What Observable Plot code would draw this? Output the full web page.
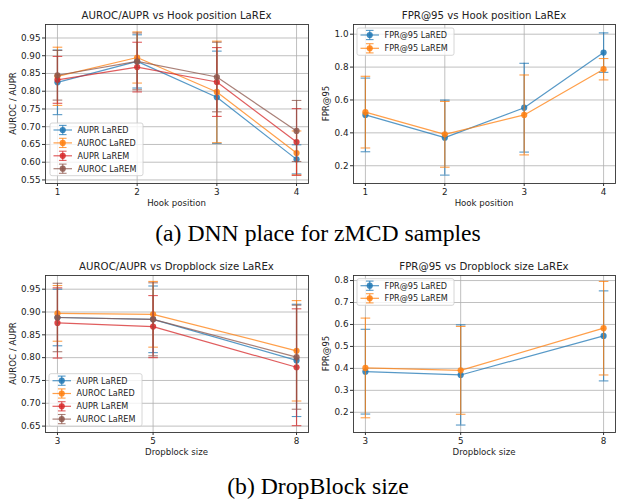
<!DOCTYPE html>
<html>
<head>
<meta charset="utf-8">
<script src="https://cdn.jsdelivr.net/npm/d3@7"></script>
<script src="https://cdn.jsdelivr.net/npm/@observablehq/plot@0.6"></script>
<style>
  body { margin: 0; background: #fff; }
  #root { position: relative; width: 620px; height: 500px; font-family: "DejaVu Sans", sans-serif; }
  #root > svg, #root > div { position: absolute; }
</style>
</head>
<body>
<div id="root"></div>
<script>
// ---------- data ----------
const hookPositions = [1, 2, 3, 4];
const dropSizes = [3, 5, 8];

const aucNames = ["AUPR LaRED", "AUROC LaRED", "AUPR LaREM", "AUROC LaREM"];
const fprNames = ["FPR@95 LaRED", "FPR@95 LaREM"];

// Hook position panel (AUROC / AUPR)
const hookAuprLaRED = [0.825, 0.884, 0.783, 0.608];
const hookAuprLaREDErr = [0.091, 0.075, 0.130, 0.041];
const hookAurocLaRED = [0.842, 0.895, 0.798, 0.626];
const hookAurocLaREDErr = [0.082, 0.072, 0.143, 0.062];
const hookAuprLaREM = [0.832, 0.868, 0.826, 0.657];
const hookAuprLaREMErr = [0.066, 0.070, 0.097, 0.094];
const hookAurocLaREM = [0.845, 0.884, 0.840, 0.688];
const hookAurocLaREMErr = [0.070, 0.080, 0.098, 0.086];

// Hook position panel (FPR@95)
const hookFprLaRED = [0.509, 0.371, 0.553, 0.888];
const hookFprLaREDErr = [0.224, 0.228, 0.270, 0.120];
const hookFprLaREM = [0.526, 0.391, 0.509, 0.787];
const hookFprLaREMErr = [0.218, 0.200, 0.243, 0.065];

// Dropblock size panel (AUROC / AUPR)
const dropAuprLaRED = [0.888, 0.884, 0.794];
const dropAuprLaREDErr = [0.062, 0.073, 0.123];
const dropAurocLaRED = [0.897, 0.895, 0.815];
const dropAurocLaREDErr = [0.061, 0.072, 0.110];
const dropAuprLaREM = [0.876, 0.868, 0.779];
const dropAuprLaREMErr = [0.077, 0.068, 0.128];
const dropAurocLaREM = [0.888, 0.884, 0.801];
const dropAurocLaREMErr = [0.075, 0.080, 0.114];

// Dropblock size panel (FPR@95)
const dropFprLaRED = [0.385, 0.370, 0.548];
const dropFprLaREDErr = [0.193, 0.228, 0.205];
const dropFprLaREM = [0.402, 0.391, 0.583];
const dropFprLaREMErr = [0.227, 0.200, 0.213];

// tick values
const aucTicksHook = [0.55, 0.60, 0.65, 0.70, 0.75, 0.80, 0.85, 0.90, 0.95];
const fprTicksHook = [0.2, 0.4, 0.6, 0.8, 1.0];
const aucTicksDrop = [0.65, 0.70, 0.75, 0.80, 0.85, 0.90, 0.95];
const fprTicksDrop = [0.2, 0.3, 0.4, 0.5, 0.6, 0.7, 0.8];

const titles = [
  "AUROC/AUPR vs Hook position LaREx",
  "FPR@95 vs Hook position LaREx",
  "AUROC/AUPR vs Dropblock size LaREx",
  "FPR@95 vs Dropblock size LaREx"
];
const xLabels = ["Hook position", "Hook position", "Dropblock size", "Dropblock size"];
const yLabels = ["AUROC / AUPR", "FPR@95", "AUROC / AUPR", "FPR@95"];
const captions = ["(a) DNN place for zMCD samples", "(b) DropBlock size"];

// ---------- styling ----------
const palette = ["#1f77b4", "#ff7f0e", "#d62728", "#8c564b"];
const ALPHA = 0.75;
const FONT = "DejaVu Sans, sans-serif";
const TXT = "#222";

const capSymbol = {
  draw(context, size) {
    const r = Math.sqrt(size / Math.PI);
    context.moveTo(-r, 0);
    context.lineTo(r, 0);
  }
};

const root = document.getElementById("root");
const overlay = d3.create("svg")
  .attr("width", 620).attr("height", 500)
  .style("left", "0px").style("top", "0px")
  .style("pointer-events", "none")
  .style("font-family", FONT);

function drawPanel(cfg) {
  const marks = [
    Plot.gridX(cfg.xs, {stroke: "#b0b0b0", strokeOpacity: 1, strokeWidth: 0.8}),
    Plot.gridY(cfg.yTicks, {stroke: "#b0b0b0", strokeOpacity: 1, strokeWidth: 0.8})
  ];
  cfg.series.forEach((s, i) => {
    const rows = cfg.xs.map((x, j) => ({x, y: s.values[j], e: s.errors[j]}));
    const c = palette[i];
    marks.push(
      Plot.ruleX(rows, {x: "x", y1: d => d.y - d.e, y2: d => d.y + d.e, stroke: c, strokeOpacity: ALPHA, strokeWidth: 1.2}),
      Plot.dot(rows, {x: "x", y: d => d.y - d.e, symbol: capSymbol, r: 4.8, fill: "none", stroke: c, strokeOpacity: ALPHA, strokeWidth: 1.1}),
      Plot.dot(rows, {x: "x", y: d => d.y + d.e, symbol: capSymbol, r: 4.8, fill: "none", stroke: c, strokeOpacity: ALPHA, strokeWidth: 1.1}),
      Plot.line(rows, {x: "x", y: "y", stroke: c, strokeOpacity: ALPHA, strokeWidth: 1.2}),
      Plot.dot(rows, {x: "x", y: "y", r: 3.1, fill: c, fillOpacity: 0.85, stroke: "none"})
    );
  });
  marks.push(
    Plot.frame({stroke: "#333", strokeWidth: 0.9}),
    Plot.axisX(cfg.xs, {tickSize: 3, tickPadding: 2, fontSize: 8.8, label: null, tickFormat: d => String(d), stroke: "#333"}),
    Plot.axisY(cfg.yTicks, {tickSize: 3, tickPadding: 2, fontSize: 8.8, label: null, tickFormat: d3.format(cfg.yFmt), stroke: "#333"})
  );
  const svg = Plot.plot({
    width: cfg.w, height: cfg.h,
    marginLeft: cfg.ml, marginRight: cfg.mr, marginTop: cfg.mt, marginBottom: cfg.mb,
    x: {type: "linear", domain: cfg.xDomain},
    y: {type: "linear", domain: cfg.yDomain},
    style: {fontFamily: FONT, color: TXT, background: "transparent", overflow: "visible"},
    marks
  });
  svg.style.left = cfg.left + "px";
  svg.style.top = cfg.top + "px";
  root.appendChild(svg);

  const fx0 = cfg.left + cfg.ml, fx1 = cfg.left + cfg.w - cfg.mr;
  const fy0 = cfg.top + cfg.mt, fy1 = cfg.top + cfg.h - cfg.mb;
  // title
  overlay.append("text").attr("x", (fx0 + fx1) / 2).attr("y", fy0 - cfg.titleGap)
    .attr("text-anchor", "middle").attr("font-size", 10.2).attr("fill", TXT).text(cfg.title);
  // x label
  overlay.append("text").attr("x", (fx0 + fx1) / 2).attr("y", fy1 + 22.5)
    .attr("text-anchor", "middle").attr("font-size", 8.6).attr("fill", TXT).text(cfg.xLabel);
  // y label
  overlay.append("text")
    .attr("transform", `translate(${cfg.yLabelX},${(fy0 + fy1) / 2}) rotate(-90)`)
    .attr("text-anchor", "middle").attr("dy", "0.35em").attr("font-size", 8.6).attr("fill", TXT).text(cfg.yLabel);
  // legend
  const L = cfg.legend;
  const n = cfg.series.length;
  overlay.append("rect")
    .attr("x", L.x).attr("y", L.y0 - 7).attr("width", L.w).attr("height", (n - 1) * L.dy + 14)
    .attr("rx", 2).attr("fill", "#fff").attr("fill-opacity", 0.8).attr("stroke", "#ccc").attr("stroke-width", 0.8);
  cfg.series.forEach((s, i) => {
    const y = L.y0 + i * L.dy, c = palette[i];
    const hx0 = L.x + 3.5, hx1 = L.x + 22, hm = (hx0 + hx1) / 2;
    const g = overlay.append("g").attr("stroke", c).attr("stroke-opacity", ALPHA);
    g.append("line").attr("x1", hx0).attr("x2", hx1).attr("y1", y).attr("y2", y).attr("stroke-width", 1.2);
    g.append("line").attr("x1", hm).attr("x2", hm).attr("y1", y - 4.6).attr("y2", y + 4.6).attr("stroke-width", 1.2);
    g.append("line").attr("x1", hm - 3.8).attr("x2", hm + 3.8).attr("y1", y - 4.6).attr("y2", y - 4.6).attr("stroke-width", 1.1);
    g.append("line").attr("x1", hm - 3.8).attr("x2", hm + 3.8).attr("y1", y + 4.6).attr("y2", y + 4.6).attr("stroke-width", 1.1);
    overlay.append("circle").attr("cx", hm).attr("cy", y).attr("r", 3.1).attr("fill", c).attr("fill-opacity", 0.85);
    overlay.append("text").attr("x", L.x + 27.5).attr("y", y).attr("dy", "0.35em")
      .attr("font-size", 8.1).attr("fill", TXT).text(s.name);
  });
}

const mkSeries = (names, vals, errs) => names.map((name, i) => ({name, values: vals[i], errors: errs[i]}));

drawPanel({
  left: 0, top: 0, w: 310, h: 215, ml: 45, mr: 2, mt: 24, mb: 32,
  xs: hookPositions, xDomain: [0.85, 4.15], yDomain: [0.54, 0.988], yTicks: aucTicksHook, yFmt: ".2f",
  series: mkSeries(aucNames,
    [hookAuprLaRED, hookAurocLaRED, hookAuprLaREM, hookAurocLaREM],
    [hookAuprLaREDErr, hookAurocLaREDErr, hookAuprLaREMErr, hookAurocLaREMErr]),
  title: titles[0], titleGap: 5.5, xLabel: xLabels[0], yLabel: yLabels[0], yLabelX: 12.7,
  legend: {x: 50, y0: 130, dy: 12.9, w: 93}
});
drawPanel({
  left: 310, top: 0, w: 310, h: 215, ml: 43, mr: 5, mt: 24, mb: 32,
  xs: hookPositions, xDomain: [0.85, 4.15], yDomain: [0.092, 1.059], yTicks: fprTicksHook, yFmt: ".1f",
  series: mkSeries(fprNames, [hookFprLaRED, hookFprLaREM], [hookFprLaREDErr, hookFprLaREMErr]),
  title: titles[1], titleGap: 5.5, xLabel: xLabels[1], yLabel: yLabels[1], yLabelX: 325.7,
  legend: {x: 357, y0: 35, dy: 13.3, w: 97}
});
drawPanel({
  left: 0, top: 255, w: 310, h: 215, ml: 45, mr: 2, mt: 20, mb: 38,
  xs: dropSizes, xDomain: [2.75, 8.25], yDomain: [0.636, 0.98], yTicks: aucTicksDrop, yFmt: ".2f",
  series: mkSeries(aucNames,
    [dropAuprLaRED, dropAurocLaRED, dropAuprLaREM, dropAurocLaREM],
    [dropAuprLaREDErr, dropAurocLaREDErr, dropAuprLaREMErr, dropAurocLaREMErr]),
  title: titles[2], titleGap: 5.5, xLabel: xLabels[2], yLabel: yLabels[2], yLabelX: 12.7,
  legend: {x: 49, y0: 380.7, dy: 12.8, w: 93}
});
drawPanel({
  left: 310, top: 255, w: 310, h: 215, ml: 43, mr: 5, mt: 20, mb: 38,
  xs: dropSizes, xDomain: [2.75, 8.25], yDomain: [0.108, 0.823], yTicks: fprTicksDrop, yFmt: ".1f",
  series: mkSeries(fprNames, [dropFprLaRED, dropFprLaREM], [dropFprLaREDErr, dropFprLaREMErr]),
  title: titles[3], titleGap: 5.5, xLabel: xLabels[3], yLabel: yLabels[3], yLabelX: 325.7,
  legend: {x: 357, y0: 285.7, dy: 12.6, w: 97}
});

// captions
overlay.append("text").attr("x", 318).attr("y", 241).attr("text-anchor", "middle")
  .attr("font-family", "Liberation Serif, Times New Roman, serif").attr("font-size", 23.7).attr("fill", "#000").text(captions[0]);
overlay.append("text").attr("x", 318).attr("y", 494).attr("text-anchor", "middle")
  .attr("font-family", "Liberation Serif, Times New Roman, serif").attr("font-size", 23.7).attr("fill", "#000").text(captions[1]);

root.appendChild(overlay.node());
</script>
</body>
</html>
